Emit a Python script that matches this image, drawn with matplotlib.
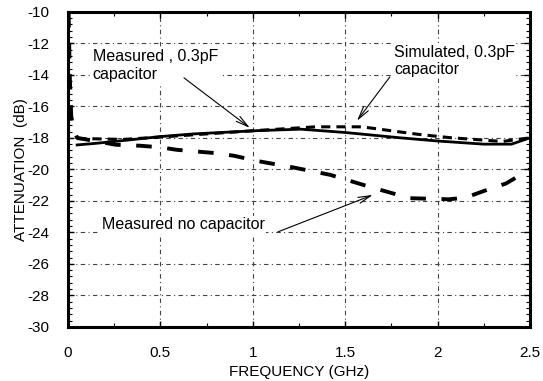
import matplotlib
matplotlib.use('Agg')
import matplotlib.pyplot as plt
from matplotlib.ticker import MultipleLocator

plt.rcParams['font.family'] = ['Liberation Sans', 'DejaVu Sans']

# measured, 0.3pF capacitor (solid)
f_meas = [0.05, 0.15, 0.3, 0.5, 0.68, 0.93, 1.03, 1.26, 1.5, 1.8, 2.0, 2.25, 2.4, 2.5]
a_meas = [-18.45, -18.35, -18.17, -17.92, -17.75, -17.6, -17.54, -17.45, -17.66,
          -18.0, -18.2, -18.4, -18.4, -18.0]

# simulated, 0.3pF capacitor (short dashes)
f_sim = [0.05, 0.1, 0.3, 0.5, 0.75, 1.0, 1.34, 1.59, 1.89, 2.06, 2.35, 2.5]
a_sim = [-18.05, -18.05, -18.1, -17.95, -17.75, -17.55, -17.3, -17.3, -17.77,
         -17.98, -18.23, -18.0]

# measured, no capacitor (long dashes)
f_nocap = [0.004, 0.01, 0.018, 0.03, 0.05, 0.26, 0.39, 0.5, 0.59, 0.70, 0.80, 0.9, 1.02,
           1.22, 1.42, 1.63, 1.85, 2.06, 2.15, 2.28, 2.37, 2.5]
a_nocap = [-10.0, -14.0, -16.6, -17.4, -18.0, -18.44, -18.5, -18.6, -18.76, -18.87, -18.97,
           -19.14, -19.46, -19.88, -20.35, -21.1, -21.83, -21.9, -21.8, -21.25,
           -20.9, -20.0]

fig = plt.figure(figsize=(5.43, 3.81), dpi=100)
ax = fig.add_axes([0.125, 0.142, 0.851, 0.827])

ax.plot(f_meas, a_meas, color='black', lw=2.0, ls='-')
ax.plot(f_sim, a_sim, color='black', lw=2.2, ls=(0, (3, 2)))
ax.plot(f_nocap, a_nocap, color='black', lw=2.8, ls=(0, (4, 4)))

ax.set_xlim(0, 2.5)
ax.set_ylim(-30, -10)
ax.xaxis.set_major_locator(MultipleLocator(0.5))
ax.xaxis.set_minor_locator(MultipleLocator(0.25))
ax.yaxis.set_major_locator(MultipleLocator(2))
ax.yaxis.set_minor_locator(MultipleLocator(0.4))
ax.xaxis.set_major_formatter(plt.FuncFormatter(lambda v, p: f'{v:g}'))
ax.yaxis.set_major_formatter(plt.FuncFormatter(lambda v, p: f'{v:g}'))

ax.tick_params(which='both', direction='in', top=True, right=True, labelsize=11)
ax.tick_params(which='major', length=4, width=1)
ax.tick_params(which='minor', length=3, width=0.8)
ax.tick_params(axis='x', which='major', pad=14)
ax.tick_params(axis='y', which='major', pad=13)
ax.grid(True, which='major', color='#444444', lw=0.8, ls=(0, (4, 3, 1, 3)))
for s in ax.spines.values():
    s.set_linewidth(2.2)

ax.set_xlabel('FREQUENCY (GHz)', fontsize=11, labelpad=3)
ax.set_ylabel('ATTENUATION  (dB)', fontsize=11, labelpad=0)

arrow = dict(arrowstyle='->,head_length=0.9,head_width=0.22', color='black', lw=0.8,
             shrinkA=0, shrinkB=0)
box = dict(fc='white', ec='none', pad=1)

ax.text(0.135, -13.4, 'Measured , 0.3pF\ncapacitor', fontsize=11.5, va='center',
        ha='left', bbox=box)
ax.annotate('', xy=(0.985, -17.37), xytext=(0.628, -14.19), arrowprops=arrow)
ax.text(1.764, -13.11, 'Simulated, 0.3pF\ncapacitor', fontsize=11.5, va='center',
        ha='left', bbox=box)
ax.annotate('', xy=(1.564, -16.92), xytext=(1.742, -14.13), arrowprops=arrow)
ax.text(0.184, -23.52, 'Measured no capacitor', fontsize=11.5, va='center', ha='left',
        bbox=box)
ax.annotate('', xy=(1.65, -21.62), xytext=(1.136, -23.97), arrowprops=arrow)

fig.savefig('out.png', dpi=100)
